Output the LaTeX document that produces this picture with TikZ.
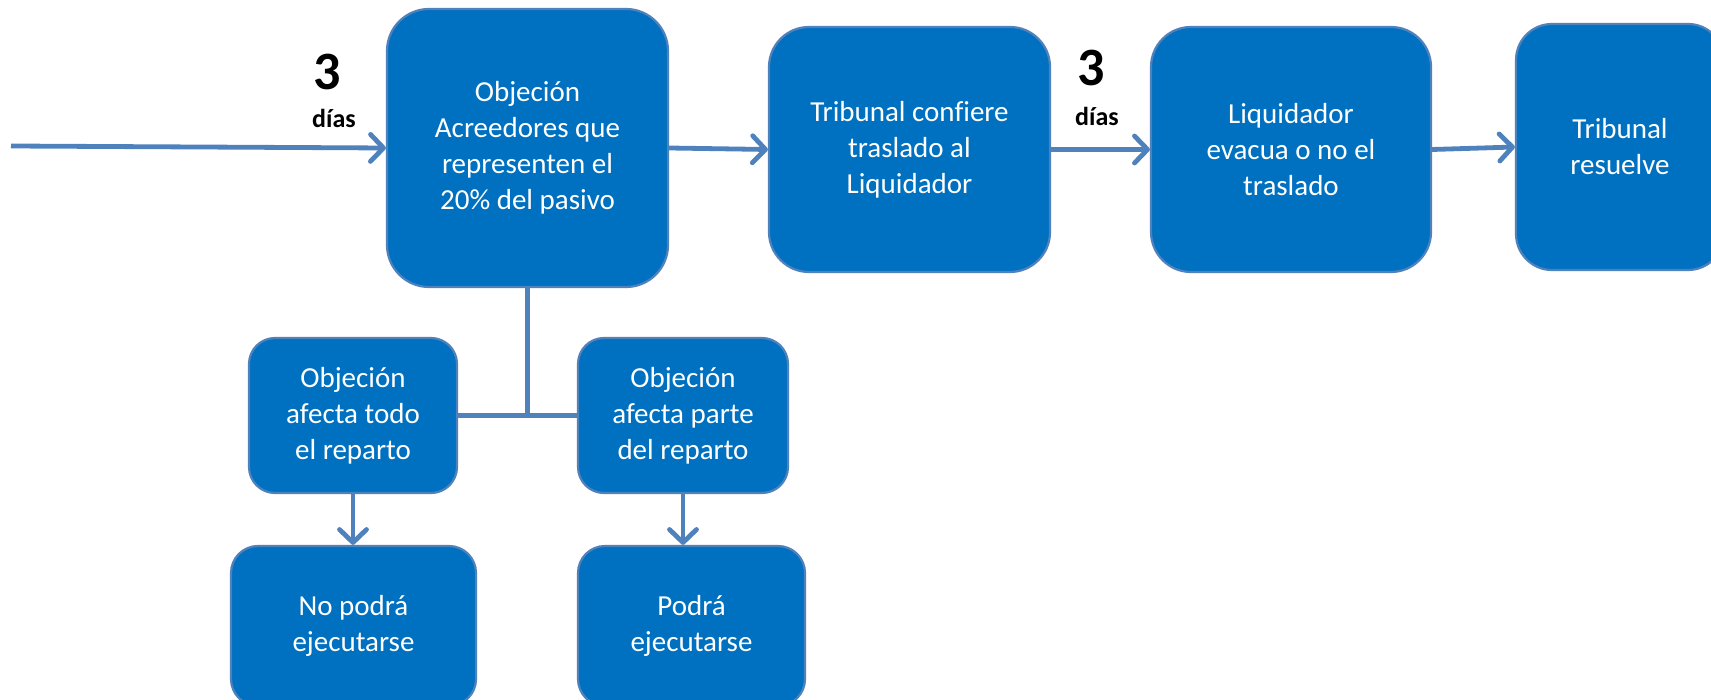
\documentclass[tikz,border=0pt]{standalone}
\usepackage{fontspec}
\setmainfont{Carlito}[Ligatures=CommonOff]
\usepackage{tikz}
\usetikzlibrary{arrows.meta, positioning}
\definecolor{boxblue}{HTML}{0070C0}
\definecolor{edgeblue}{HTML}{4F81BD}
\tikzset{
  box/.style={draw=edgeblue, fill=boxblue, line width=2.2pt, rounded corners=#1,
              text=white, align=center, inner sep=0pt,
              font=\fontsize{29}{36}\selectfont},
  box/.default=42pt,
  flow/.style={-{Straight Barb[length=13pt, width=27pt, line cap=round, line join=round]},
               line width=4.8pt, color=edgeblue},
  link/.style={line width=4.8pt, color=edgeblue},
  bignum/.style={font=\fontsize{54}{58}\selectfont\bfseries, text=black},
  dias/.style={font=\fontsize{26}{30}\selectfont\bfseries, text=black},
}
\begin{document}
\begin{tikzpicture}[x=1pt, y=-1pt]
  \useasboundingbox (0,0) rectangle (1711,700);
  % main row
  \node[box, minimum width=281pt, minimum height=278pt] (obj) at (527.5,148)
    {Objeción\\Acreedores que\\representen el\\20\% del pasivo};
  \node[box=40pt, minimum width=281pt, minimum height=245pt] (conf) at (909.5,149.5)
    {Tribunal confiere\\traslado al\\Liquidador};
  \node[box=40pt, minimum width=280pt, minimum height=245pt] (liq) at (1291,149.5)
    {Liquidador\\evacua o no el\\traslado};
  \node[box=36pt, minimum width=208pt, minimum height=246pt] (res) at (1620,147)
    {Tribunal\\resuelve};
  % branches
  \node[box=26pt, minimum width=208pt, minimum height=155pt] (todo) at (353,415.5)
    {Objeción\\afecta todo\\el reparto};
  \node[box=26pt, minimum width=210pt, minimum height=155pt] (parte) at (683,415.5)
    {Objeción\\afecta parte\\del reparto};
  \node[box=27pt, minimum width=245pt, minimum height=160pt] (nopuede) at (353.5,626)
    {No podrá\\ejecutarse};
  \node[box=27pt, minimum width=227pt, minimum height=160pt] (puede) at (691.5,626)
    {Podrá\\ejecutarse};
  % plazos
  \node[bignum] (n1) at (327,72) {3};
  \node[dias] (d1) at (334,118) {días};
  \node[bignum] (n2) at (1091,68) {3};
  \node[dias] (d2) at (1097,116) {días};
  % connectors
  \coordinate (start) at (11,146);
  \draw[flow] (start) -- (obj.west);
  \draw[flow] (obj.east) -- (conf.west);
  \draw[flow] (conf.east) -- (liq.west);
  \draw[flow] (liq.east) -- (res.west);
  \draw[link] (todo.east) -- (parte.west);
  \draw[link] (obj.south) -- (obj.south |- todo.east);
  \draw[flow] (todo.south) -- (todo.south |- nopuede.north);
  \draw[flow] (parte.south) -- (parte.south |- puede.north);
\end{tikzpicture}
\end{document}
